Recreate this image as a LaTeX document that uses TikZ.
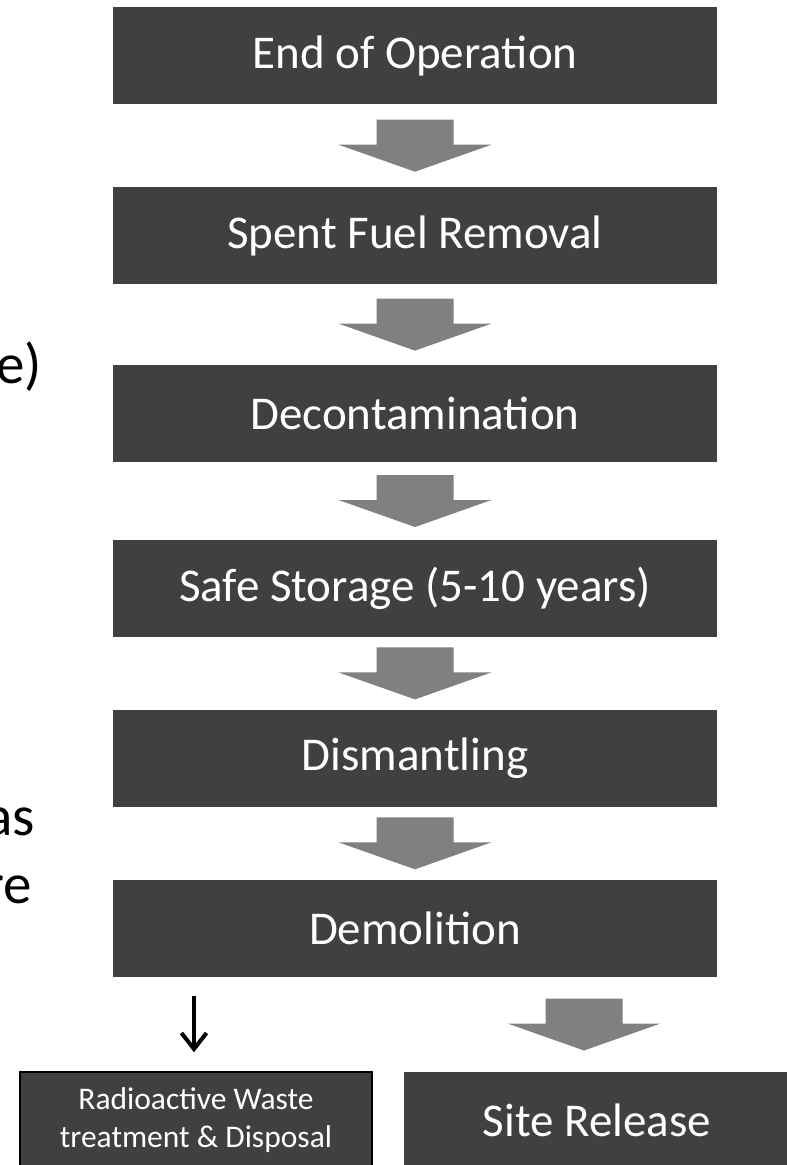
\documentclass[tikz,border=0pt]{standalone}
\usepackage{fontspec}
\setmainfont{Carlito}
\usetikzlibrary{calc,arrows.meta,positioning}
\definecolor{boxgrey}{HTML}{404040}
\definecolor{arrowgrey}{HTML}{808080}
\newcommand{\blockarrow}[2]{\path (#1) -- coordinate[midway] (mid) (#2);
  \fill[arrowgrey] ($(mid)+(-38.5,-26)$) -- ($(mid)+(38.5,-26)$) -- ($(mid)+(38.5,-1)$) -- ($(mid)+(76.5,-1)$)
    -- ($(mid)+(0,26)$) -- ($(mid)+(-76.5,-1)$) -- ($(mid)+(-38.5,-1)$) -- cycle;}
\begin{document}
\begin{tikzpicture}[x=1pt,y=-1pt,
  stagebox/.style={fill=boxgrey,text=white,minimum width=604pt,minimum height=97pt,inner sep=0pt,font=\fontsize{47}{56}\selectfont},
  endbox/.style={fill=boxgrey,text=white,minimum height=97pt,inner sep=0pt},
  fragment/.style={inner sep=0pt,anchor=base east,font=\fontsize{57}{68}\selectfont},
  thinarrow/.style={draw=black,line width=4pt,-{Straight Barb[length=16pt,width=25pt,line width=4pt]}}]
\useasboundingbox (0,0) rectangle (787,1165);
\node[stagebox] (endop) at (415,55.5) {End of Operation};
\node[stagebox,below=83pt of endop] (fuel) {Spent Fuel Removal};
\node[stagebox,below=80pt of fuel] (decon) {Decontamination};
\node[stagebox,below=78pt of decon] (storage) {Safe Storage (5-10 years)};
\node[stagebox,below=72pt of storage] (dismantle) {Dismantling};
\node[stagebox,below=73pt of dismantle] (demolition) {Demolition};
\node[endbox,draw=black,line width=1.5pt,minimum width=352pt,align=center,
  font=\fontsize{31.5}{38}\selectfont] (waste) at (196,1120.5) {Radioactive Waste\\treatment \& Disposal};
\node[endbox,minimum width=386pt,font=\fontsize{47}{56}\selectfont] (siterel) at (597,1120.5) {Site Release};
% text cut off at the left edge
\node[fragment] (frag1) at (42,383) {e)};
\node[fragment] (frag2) at (35,835) {as};
\node[fragment] (frag3) at (32,903) {re};
% arrows
\blockarrow{endop.south}{fuel.north}
\blockarrow{fuel.south}{decon.north}
\blockarrow{decon.south}{storage.north}
\blockarrow{storage.south}{dismantle.north}
\blockarrow{dismantle.south}{demolition.north}
\blockarrow{$(demolition.south -| siterel.north)+(-13,0)$}{$(siterel.north)+(-13,0)$}
\path[thinarrow] ($(demolition.south -| waste.north)+(-2,19)$) -- ($(waste.north)+(-2,-19)$);
\end{tikzpicture}
\end{document}
